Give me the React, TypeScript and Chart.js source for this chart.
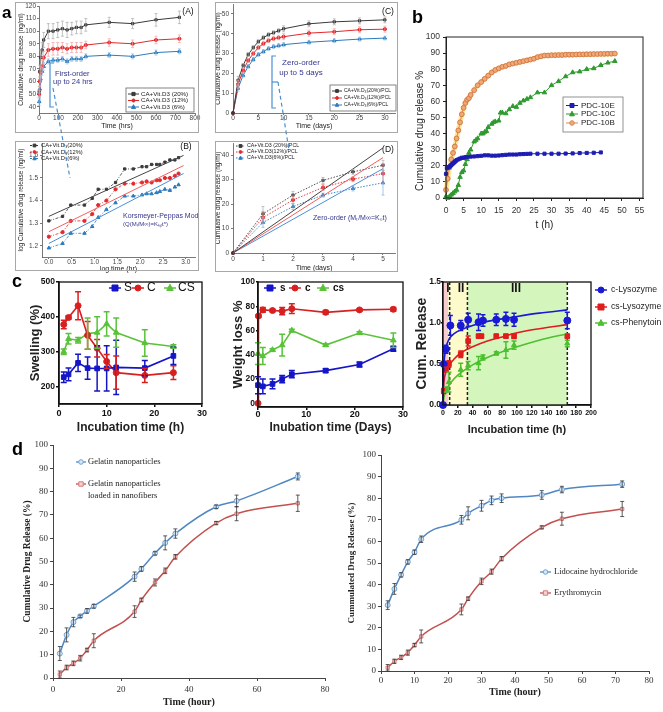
import React, { useEffect, useRef } from "react";
import { Chart, registerables } from "chart.js";
Chart.register(...registerables);

const SANS = '"Liberation Sans", Arial, Helvetica, sans-serif';
const SERIF = '"Liberation Serif", "Times New Roman", Times, serif';

/* ================= DATA ================= */
/* a (A) : cumulative release vs time (hrs) */
const aTimes = [1, 4, 8, 16, 24, 48, 72, 96, 120, 144, 168, 192, 216, 240, 360, 480, 600, 720];
const aVitD20 = [52, 68, 79, 85, 93, 100, 100, 101, 102, 101, 102, 103, 103, 105, 107, 106, 109, 111];
const aVitD20Err = [4, 5, 6, 6, 6, 6, 6, 6, 6, 6, 5, 5, 5, 5, 4, 4, 5, 5];
const aVitD12 = [50, 60, 67, 72, 79, 85, 86, 86, 87, 86, 87, 87, 87, 89, 91, 90, 93, 94];
const aVitD12Err = [3, 4, 5, 5, 5, 5, 5, 5, 4, 4, 4, 4, 4, 3, 3, 3, 3, 3];
const aVitD6 = [44, 54, 62, 68, 72, 76, 77, 77, 78, 76, 78, 78, 78, 80, 81, 80, 83, 84];
const aVitD6Err = [3, 3, 3, 3, 3, 2, 2, 2, 2, 2, 2, 2, 2, 2, 2, 2, 2, 2];
const aXTicks = [0, 100, 200, 300, 400, 500, 600, 700, 800];
const aYTicks = [40, 50, 60, 70, 80, 90, 100, 110, 120];
const aLegend = ["CA+Vit.D3 (20%)", "CA+Vit.D3 (12%)", "CA+Vit.D3 (6%)"];

/* a (B) : Korsmeyer-Peppas (log-log) */
const bLogT = [0, 0.3, 0.48, 0.78, 0.95, 1.08, 1.26, 1.46, 1.66, 1.85, 2.04, 2.14, 2.25, 2.36, 2.43, 2.54, 2.65, 2.76, 2.84];
const bLogD20 = [1.31, 1.33, 1.38, 1.38, 1.41, 1.45, 1.45, 1.48, 1.54, 1.54, 1.55, 1.55, 1.56, 1.56, 1.56, 1.57, 1.58, 1.58, 1.59];
const bLogD12 = [1.24, 1.26, 1.31, 1.31, 1.34, 1.38, 1.4, 1.45, 1.475, 1.475, 1.48, 1.485, 1.48, 1.49, 1.49, 1.5, 1.5, 1.51, 1.52];
const bLogD6 = [1.19, 1.21, 1.255, 1.255, 1.285, 1.325, 1.36, 1.39, 1.42, 1.42, 1.425, 1.43, 1.43, 1.435, 1.44, 1.45, 1.445, 1.46, 1.47];
const bFitX = [0, 2.95];
const bFit20 = [1.33, 1.6];
const bFit12 = [1.262, 1.555];
const bFit6 = [1.21, 1.52];
const bXTicks = [0, 0.5, 1, 1.5, 2, 2.5, 3];
const bYTicks = [1.2, 1.3, 1.4, 1.5, 1.6];
const bLegend = ["CA+Vit.D\u2083(20%)", "CA+Vit.D\u2083(12%)", "CA+Vit.D\u2083(6%)"];

/* a (C) : release from PCL (days) */
const cDays = [0, 1, 2, 3, 4, 5, 6, 7, 8, 9, 10, 15, 20, 25, 30];
const cPcl20 = [0, 16.5, 24, 29.5, 33, 36, 38, 39.5, 40.5, 41.5, 42.5, 45, 46, 46.5, 47];
const cPcl20Err = [0, 2, 1, 1, 1, 1, 1, 1, 1, 1, 1.5, 1.5, 1.5, 1.5, 1.5];
const cPcl12 = [0, 14.5, 21.5, 26.5, 30, 33, 35, 36.5, 37.5, 38, 38.5, 40.3, 41, 42, 42.3];
const cPcl12Err = [0, 2, 1, 1, 1, 1, 1, 1, 1, 1, 1.5, 1.5, 1.5, 1.5, 1.5];
const cPcl6 = [0, 12.5, 19, 23.5, 27, 29.5, 31, 32.5, 33.5, 34, 34.5, 35.7, 36.5, 37.3, 37.8];
const cPcl6Err = [0, 1.5, 1, 1, 1, 1, 1, 1, 1, 1, 1, 1, 1, 1, 1];
const cXTicks = [0, 5, 10, 15, 20, 25, 30];
const cYTicks = [0, 10, 20, 30, 40, 50];
const cLegend = ["CA+Vit.D\u2083(20%)/PCL", "CA+Vit.D\u2083(12%)/PCL", "CA+Vit.D\u2083(6%)/PCL"];

/* a (D) : zero-order, first 5 days */
const dDays = [0, 1, 2, 3, 4, 5];
const dPcl20 = [0, 16, 23.7, 29.7, 33.2, 35.9];
const dPcl20Err = [0, 3, 1.5, 1.2, 1, 2];
const dPcl12 = [0, 14.5, 21.7, 26.8, 30.2, 32.5];
const dPcl12Err = [0, 2.5, 1.5, 1.2, 1, 4];
const dPcl6 = [0, 12.5, 19, 23.7, 26.4, 28.7];
const dPcl6Err = [0, 2, 1.2, 0.8, 1, 5];
const dFitX = [0, 5];
const dFit20 = [0, 43];
const dFit12 = [0, 39];
const dFit6 = [0, 34.5];
const dXTicks = [0, 1, 2, 3, 4, 5];
const dYTicks = [0, 10, 20, 30, 40];
const dLegend = ["CA+Vit.D3 (20%)/PCL", "CA+Vit.D3(12%)/PCL", "CA+Vit.D3(6%)/PCL"];

/* b : PDC release */
const pdc10E_t = [0, 0.25, 0.5, 0.75, 1, 1.25, 1.5, 1.75, 2, 2.25, 2.5, 2.75, 3, 3.5, 4, 4.5, 5, 5.5, 6, 7, 8, 9, 10, 11, 12, 13, 14, 15, 16, 17, 18, 19, 20, 21, 22, 23, 24, 26, 28, 30, 32, 34, 36, 38, 40, 42, 44];
const pdc10E = [15, 18.5, 19, 19, 19.5, 20, 20.5, 21, 21.5, 22, 22.5, 23, 23.5, 24, 24.5, 25, 25, 25.3, 25.5, 25.7, 25.8, 26, 26.2, 26.5, 26.5, 26.3, 26.3, 26.4, 26.6, 26.8, 27, 27, 27, 27.2, 27.3, 27.4, 27.5, 27.5, 27.5, 27.5, 27.5, 27.6, 27.7, 27.9, 28, 28.1, 28.3];
const pdc10C_t = [0, 0.5, 1, 1.5, 2, 2.5, 3, 3.5, 4, 4.5, 5, 5.5, 6, 6.5, 7, 8, 8.5, 9, 10, 10.5, 11, 11.5, 12, 13, 13.5, 14, 15, 15.5, 16, 17, 18, 19, 20, 21, 22, 23, 24, 26, 28, 30, 32, 34, 36, 38, 40, 42, 44, 46, 48];
const pdc10C = [1, 0, 1, 2, 3, 4, 5, 8, 13, 16, 17, 21, 24, 28, 30, 35, 36, 37, 40, 40, 41, 41.5, 44, 46, 47, 47.5, 48, 53, 53, 52.5, 55, 57, 56.5, 59, 60.5, 61.5, 62.5, 65.5, 65.5, 70, 72.5, 75.5, 78, 78.5, 80, 80.5, 82.5, 84, 85];
const pdc10B_t = [0, 0.5, 1, 1.5, 2, 2.5, 3, 3.5, 4, 4.5, 5, 5.5, 6, 6.5, 7, 8, 9, 10, 11, 12, 13, 14, 15, 16, 17, 18, 19, 20, 21, 22, 23, 24, 25, 26, 27, 28, 29, 30, 31, 32, 33, 34, 35, 36, 37, 38, 39, 40, 41, 42, 43, 44, 45, 46, 47, 48];
const pdc10B = [5, 12, 19, 24, 28, 32, 37, 42, 47, 52, 56, 59, 61, 62, 64, 67, 70, 72, 74, 76, 78, 79.5, 80.5, 81.5, 82, 83, 83.5, 84, 84.5, 85, 85.5, 86, 86.5, 87.5, 88, 88.5, 88.5, 88.7, 88.7, 88.8, 88.8, 89, 89, 89, 89.1, 89.2, 89.2, 89.3, 89.3, 89.4, 89.4, 89.5, 89.5, 89.6, 89.6, 89.7];
const pdcXTicks = [0, 5, 10, 15, 20, 25, 30, 35, 40, 45, 50, 55];
const pdcYTicks = [0, 10, 20, 30, 40, 50, 60, 70, 80, 90, 100];
const pdcLegend = ["PDC-10E", "PDC-10C", "PDC-10B"];

/* c : swelling (h) */
const swT = [1, 2, 4, 6, 8, 10, 12, 18, 24];
const swS = [227, 235, 268, 253, 252, 252, 255, 253, 288];
const swSErr = [15, 18, 25, 32, 65, 65, 78, 22, 25];
const swC = [378, 398, 432, 347, 310, 272, 240, 232, 240];
const swCErr = [12, 5, 40, 40, 25, 20, 48, 20, 20];
const swCS = [300, 337, 333, 352, 355, 380, 355, 325, 315];
const swCSErr = [8, 15, 8, 45, 45, 35, 42, 38, 5];
const swXTicks = [0, 10, 20, 30];
const swYTicks = [200, 300, 400, 500];

/* c : weight loss (days) */
const wlT = [0, 1, 3, 5, 7, 14, 21, 28];
const wlS = [15, 14, 16, 20, 24, 27, 32, 45];
const wlSErr = [7, 6, 4, 3, 3, 1.5, 2, 2];
const wlCT = [0, 0.1, 1, 3, 5, 7, 14, 21, 28];
const wlC = [0, 72, 77, 76.5, 76, 78, 75, 77, 77.5];
const wlCErr = [0, 1, 2, 1, 3, 4, 1.5, 1, 1.5];
const wlCS = [41, 39, 44, 48, 60, 48, 58, 52];
const wlCSErr = [9, 7, 1, 9, 1, 1, 1, 6];
const wlXTicks = [0, 10, 20, 30];
const wlYTicks = [0, 20, 40, 60, 80, 100];

/* c : cumulative release (h) */
const crLysT = [0, 1, 4, 10, 24, 34, 48, 54, 72, 85, 96, 168];
const crLys = [0, 0.5, 0.68, 0.97, 0.97, 1.04, 1.01, 1.03, 1.04, 1.05, 1.04, 1.03];
const crLysErr = [0, 0.02, 0.05, 0.12, 0.06, 0.08, 0.1, 0.07, 0.07, 0.08, 0.08, 0.1];
const crCsLysT = [0, 1, 4, 8, 24, 34, 48, 52, 72, 85, 96, 168];
const crCsLys = [0, 0.17, 0.43, 0.5, 0.62, 0.78, 0.84, 0.84, 0.84, 0.84, 0.84, 0.84];
const crCsLysErr = [0, 0.03, 0.03, 0.04, 0.04, 0.06, 0.02, 0.02, 0.02, 0.02, 0.03, 0.02];
const crPhT = [0, 4, 8, 24, 34, 48, 54, 72, 85, 96, 168];
const crPh = [0, 0.19, 0.28, 0.43, 0.48, 0.51, 0.58, 0.63, 0.67, 0.73, 0.75];
const crPhErr = [0, 0.03, 0.12, 0.08, 0.05, 0.08, 0.03, 0.02, 0.1, 0.05, 0.04];
const crFitLysT = [0, 0.5, 1, 2, 4, 8, 15, 25, 40, 60, 80, 100, 130, 168];
const crFitLys = [0, 0.3, 0.45, 0.58, 0.7, 0.8, 0.87, 0.92, 0.97, 1.02, 1.05, 1.08, 1.12, 1.16];
const crFitCsLys = [0, 0.15, 0.25, 0.33, 0.4, 0.48, 0.56, 0.64, 0.71, 0.78, 0.83, 0.88, 0.93, 0.98];
const crFitPhT = [0, 1, 2, 4, 8, 15, 25, 40, 60, 80, 100, 130, 168];
const crFitPh = [0, 0.08, 0.12, 0.17, 0.24, 0.32, 0.4, 0.49, 0.58, 0.65, 0.71, 0.79, 0.87];
const crZones = [0, 7, 33, 168];
const crDashes = [9, 33, 168];
const crXTicks = [0, 20, 40, 60, 80, 100, 120, 140, 160, 180, 200];
const crYTicks = [0, 0.5, 1, 1.5];
const crLegend = ["c-Lysozyme", "cs-Lysozyme", "cs-Phenytoin"];

/* d : nanoparticle / nanofiber release (hour) */
const ndT = [2, 4, 6, 8, 10, 12, 24, 26, 30, 33, 36, 48, 54, 72];
const gelNP = [10.5, 18.5, 24, 26.5, 28.8, 30.8, 43.5, 46.8, 53.5, 58, 62, 73.5, 76, 86.5];
const gelNPErr = [3, 3, 2, 0.5, 1, 0.8, 2, 1, 0.7, 3, 2, 0.7, 2.5, 1.5];
const gelNF = [1.5, 4.5, 6.3, 8.5, 12, 16, 28.5, 33.5, 41, 46, 52, 66.5, 70.5, 75];
const gelNFErr = [1.5, 1, 1, 1.2, 0.8, 3, 2.5, 0.8, 1.5, 1.2, 1, 0.7, 3, 3.5];
const lido = [30.5, 38, 44.5, 50.5, 55, 61, 70, 73, 76.5, 79, 80, 81.5, 84, 86.5];
const lidoErr = [2, 2.5, 1, 1, 1, 1.5, 2, 3, 2.5, 2, 2, 2, 1.5, 1.5];
const eryth = [1.5, 4.5, 6.3, 8.5, 12, 16, 28.5, 33.5, 41.5, 46, 52, 66.5, 70.5, 75];
const erythErr = [1.5, 1, 1, 1.2, 0.8, 3, 2.5, 0.8, 1.5, 1.2, 1, 0.7, 3, 3.5];
const ndXTicksL = [0, 20, 40, 60, 80];
const ndXTicksR = [0, 10, 20, 30, 40, 50, 60, 70, 80];
const ndYTicks = [0, 10, 20, 30, 40, 50, 60, 70, 80, 90, 100];

/* ================= HELPERS ================= */
function line(xs: number[], ys: number[], o: any = {}) {
  return {
    data: xs.map((x, i) => ({ x, y: ys[i] })),
    borderColor: o.color,
    backgroundColor: o.fill ?? o.color,
    borderWidth: o.lw ?? 1,
    borderDash: o.dash ?? [],
    pointStyle: o.style ?? "circle",
    pointRadius: o.r ?? 0,
    pointBackgroundColor: o.fill ?? o.color,
    pointBorderColor: o.pstroke ?? o.color,
    pointBorderWidth: o.pw ?? 1,
    tension: o.tension ?? 0,
    cubicInterpolationMode: o.mono ? "monotone" : "default",
    showLine: o.showLine ?? true,
    clip: false,
    order: o.order ?? 0,
    err: o.err,
    errColor: o.errColor,
    errW: o.errW,
    cap: o.cap,
  };
}

function shape(ctx: any, style: string, x: number, y: number, r: number, fill: string | null, stroke: string | null, lw = 1) {
  ctx.beginPath();
  if (style === "rect") ctx.rect(x - r, y - r, 2 * r, 2 * r);
  else if (style === "triangle") {
    ctx.moveTo(x, y - r * 1.15);
    ctx.lineTo(x + r, y + r * 0.75);
    ctx.lineTo(x - r, y + r * 0.75);
    ctx.closePath();
  } else ctx.arc(x, y, r, 0, Math.PI * 2);
  if (fill) { ctx.fillStyle = fill; ctx.fill(); }
  if (stroke) { ctx.setLineDash([]); ctx.strokeStyle = stroke; ctx.lineWidth = lw; ctx.stroke(); }
}

function text(ctx: any, P: any, s: string, x: number, y: number, font: string, color: string, align = "left") {
  const [cx, cy] = P(x, y);
  ctx.font = font;
  ctx.fillStyle = color;
  ctx.textAlign = align;
  ctx.textBaseline = "middle";
  ctx.fillText(s, cx, cy);
}

function vtext(ctx: any, P: any, s: string, x: number, y: number, font: string, color: string) {
  const [cx, cy] = P(x, y);
  ctx.save();
  ctx.translate(cx, cy);
  ctx.rotate(-Math.PI / 2);
  ctx.font = font;
  ctx.fillStyle = color;
  ctx.textAlign = "center";
  ctx.textBaseline = "middle";
  ctx.fillText(s, 0, 0);
  ctx.restore();
}

function legend(ctx: any, P: any, o: any) {
  if (o.box) {
    const [x1, y1] = P(o.box.l, o.box.t);
    const [x2, y2] = P(o.box.r, o.box.b);
    ctx.setLineDash([]);
    ctx.strokeStyle = o.boxColor || "#555";
    ctx.lineWidth = o.boxW || 0.8;
    ctx.strokeRect(x1, y1, x2 - x1, y2 - y1);
  }
  for (const it of o.items) {
    const x1 = it.x1 ?? o.x1, x2 = it.x2 ?? o.x2, tx = it.tx ?? o.tx;
    const [a, y] = P(x1, it.y);
    const [b] = P(x2, it.y);
    ctx.setLineDash(it.dash || []);
    ctx.strokeStyle = it.color;
    ctx.lineWidth = it.lw || 1;
    ctx.beginPath();
    ctx.moveTo(a, y);
    ctx.lineTo(b, y);
    ctx.stroke();
    ctx.setLineDash([]);
    if (it.style) shape(ctx, it.style, (a + b) / 2, y, it.r || 2, it.fill ?? it.color, it.stroke ?? it.color, 1);
    text(ctx, P, it.text, tx, it.y, o.font, o.color || "#222");
    if (it.text2) text(ctx, P, it.text2, tx, it.y + o.lh2, o.font, o.color || "#222");
  }
}

function drawErr(chart: any) {
  const ctx = chart.ctx;
  const ys = chart.scales.y;
  chart.data.datasets.forEach((ds: any, i: number) => {
    if (!ds.err) return;
    const meta = chart.getDatasetMeta(i);
    ctx.save();
    ctx.strokeStyle = ds.errColor || ds.borderColor;
    ctx.lineWidth = ds.errW || 1;
    ctx.setLineDash([]);
    const cap = ds.cap ?? 2;
    ds.data.forEach((p: any, j: number) => {
      const e = ds.err[j];
      const el = meta.data[j];
      if (!e || !el) return;
      const x = el.x;
      const y1 = ys.getPixelForValue(p.y + e);
      const y2 = ys.getPixelForValue(p.y - e);
      ctx.beginPath();
      ctx.moveTo(x, y1); ctx.lineTo(x, y2);
      ctx.moveTo(x - cap, y1); ctx.lineTo(x + cap, y1);
      ctx.moveTo(x - cap, y2); ctx.lineTo(x + cap, y2);
      ctx.stroke();
    });
    ctx.restore();
  });
}

function geom(s: any) {
  const tf = s.y.titleSize ?? 10;
  let left = s.y.title ? Math.floor(s.y.titleAt - tf * 0.65 - 2) : s.plot.l - 30;
  if (s.minLeft != null) left = Math.min(left, s.minLeft);
  const top = s.plot.t - s.padT;
  const xf = s.x.titleSize ?? 10;
  const bottom = s.x.title ? Math.ceil(s.x.titleAt + xf * 0.65 + 2) : s.plot.b + 20;
  const right = s.plot.r + s.padR;
  return { left, top, w: right - left, h: bottom - top, yw: s.plot.l - left, xh: bottom - s.plot.b };
}

function axisOpts(a: any, isX: boolean, g: any, s: any) {
  const tl = a.tickLen ?? 3;
  const fs = a.font;
  let pad: number;
  if (isX) pad = (a.labelAt ?? s.plot.b + tl + 2 + fs * 0.6) - s.plot.b - tl - fs * 0.6;
  else pad = s.plot.l - tl - (a.labelAt ?? s.plot.l - tl - 2);
  const col = a.line ?? "#333";
  return {
    type: "linear",
    position: isX ? "bottom" : "left",
    min: a.min,
    max: a.max,
    bounds: "data",
    offset: false,
    afterBuildTicks: (sc: any) => { sc.ticks = a.ticks.map((v: number) => ({ value: v })); },
    afterFit: (sc: any) => {
      if (isX) sc.height = g.xh; else sc.width = g.yw;
      sc.paddingLeft = 0; sc.paddingRight = 0; sc.paddingTop = 0; sc.paddingBottom = 0;
    },
    grid: { display: true, drawOnChartArea: false, drawTicks: tl > 0, tickLength: tl, color: col, lineWidth: a.lineW ?? 1 },
    border: { display: true, color: col, width: a.lineW ?? 1 },
    ticks: {
      autoSkip: false, maxRotation: 0, minRotation: 0, padding: pad,
      color: a.color ?? "#333",
      font: { family: a.family, size: fs, weight: a.bold ? "bold" : "normal", lineHeight: 1.2 },
      callback: (v: any) => (a.fmt ? a.fmt(Number(v)) : String(v)),
    },
    title: { display: false },
  };
}

function PlotCanvas({ spec }: { spec: any }) {
  const ref = useRef<HTMLCanvasElement>(null);
  const g = geom(spec);
  useEffect(() => {
    const P = (x: number, y: number) => [x - g.left, y - g.top];
    const overlay = {
      id: "overlay",
      beforeDatasetsDraw(chart: any) {
        const ctx = chart.ctx;
        ctx.save();
        if (spec.before) spec.before(ctx, chart, P);
        ctx.restore();
      },
      afterDatasetsDraw(chart: any) {
        const ctx = chart.ctx;
        drawErr(chart);
        ctx.save();
        const ca = chart.chartArea;
        if (spec.box) {
          ctx.setLineDash([]);
          ctx.strokeStyle = spec.boxColor ?? "#222";
          ctx.lineWidth = spec.boxW ?? 1;
          ctx.strokeRect(ca.left, ca.top, ca.right - ca.left, ca.bottom - ca.top);
        }
        const xa = spec.x, ya = spec.y;
        if (xa.title) text(ctx, P, xa.title, xa.titleMid ?? (spec.plot.l + spec.plot.r) / 2, xa.titleAt, xa.titleFont, xa.titleColor ?? "#222", "center");
        if (ya.title) vtext(ctx, P, ya.title, ya.titleAt, ya.titleMid ?? (spec.plot.t + spec.plot.b) / 2, ya.titleFont, ya.titleColor ?? "#222");
        if (spec.after) spec.after(ctx, chart, P);
        ctx.restore();
      },
    };
    const chart = new Chart(ref.current as any, {
      type: "line",
      data: { datasets: spec.datasets },
      options: {
        animation: false,
        responsive: false,
        maintainAspectRatio: false,
        devicePixelRatio: 1,
        events: [],
        layout: { padding: { left: 0, top: spec.padT, right: spec.padR, bottom: 0 }, autoPadding: false },
        plugins: { legend: { display: false }, tooltip: { enabled: false }, title: { display: false } },
        scales: { x: axisOpts(spec.x, true, g, spec), y: axisOpts(spec.y, false, g, spec) },
      } as any,
      plugins: [overlay],
    } as any);
    return () => chart.destroy();
  }, []);
  return (
    <canvas
      ref={ref}
      width={g.w}
      height={g.h}
      style={{ position: "absolute", left: g.left, top: g.top, width: g.w, height: g.h }}
    />
  );
}

/* ================= SPECS ================= */
const f1 = (v: number) => v.toFixed(1);
const K = "#3a3a3a", R = "#e3282c", B = "#2b7bbd";
const NAVY = "#34368c";

const aAxis = { family: SANS, font: 6.5, color: "#444", line: "#555", lineW: 0.8, tickLen: 2 };

const specA = {
  plot: { l: 39, t: 6, r: 195, b: 113 }, padT: 5, padR: 7,
  x: { ...aAxis, min: 0, max: 800, ticks: aXTicks, labelAt: 118.5, title: "Time (hrs)", titleAt: 126, titleSize: 7, titleFont: `7px ${SANS}` },
  y: { ...aAxis, min: 35, max: 120, ticks: aYTicks, labelAt: 36, title: "Cumulative drug release (ng/ml)", titleAt: 21, titleSize: 6.5, titleFont: `6.5px ${SANS}` },
  datasets: [
    line(aTimes, aVitD20, { color: K, style: "rect", r: 1.6, err: aVitD20Err, errColor: "#aaa", errW: 0.7, cap: 1.5 }),
    line(aTimes, aVitD12, { color: R, style: "circle", r: 1.6, err: aVitD12Err, errColor: "#f3a0a0", errW: 0.7, cap: 1.5 }),
    line(aTimes, aVitD6, { color: B, style: "triangle", r: 2, err: aVitD6Err, errColor: "#9cc3e6", errW: 0.7, cap: 1.5 }),
  ],
  after: (ctx: any, ch: any, P: any) => {
    legend(ctx, P, {
      box: { l: 126, t: 88, r: 194, b: 112 }, boxColor: "#666", x1: 128, x2: 139, tx: 141, font: `6.2px ${SANS}`,
      items: [
        { text: aLegend[0], y: 94, color: K, style: "rect", r: 1.6 },
        { text: aLegend[1], y: 100.5, color: R, style: "circle", r: 1.6 },
        { text: aLegend[2], y: 107, color: B, style: "triangle", r: 2 },
      ],
    });
    text(ctx, P, "First-order", 55, 74, `7.5px ${SANS}`, NAVY);
    text(ctx, P, "up to 24 hrs", 53, 82, `7.5px ${SANS}`, NAVY);
    text(ctx, P, "(A)", 188, 12, `8.5px ${SANS}`, "#111", "center");
  },
};

const specB = {
  plot: { l: 42, t: 143, r: 195, b: 257 }, padT: 3, padR: 4,
  x: { ...aAxis, min: -0.15, max: 3.2, ticks: bXTicks, fmt: f1, labelAt: 262, title: "log time (hr)", titleAt: 269, titleSize: 7, titleFont: `7px ${SANS}` },
  y: { ...aAxis, min: 1.15, max: 1.655, ticks: bYTicks, fmt: f1, labelAt: 38, title: "log Cumulative drug release (ng/ml)", titleAt: 21, titleSize: 6.5, titleFont: `6.5px ${SANS}` },
  datasets: [
    line(bFitX, bFit20, { color: "#444", lw: 1 }),
    line(bFitX, bFit12, { color: "#f06060", lw: 1 }),
    line(bFitX, bFit6, { color: "#4a90d8", lw: 1 }),
    line(bLogT, bLogD20, { color: K, style: "rect", r: 1.6, lw: 0.8, dash: [3, 1.5, 1, 1.5] }),
    line(bLogT, bLogD12, { color: R, style: "circle", r: 1.6, lw: 0.8, dash: [3, 1.5, 1, 1.5] }),
    line(bLogT, bLogD6, { color: B, style: "triangle", r: 2, lw: 0.8, dash: [3, 1.5, 1, 1.5] }),
  ],
  after: (ctx: any, ch: any, P: any) => {
    legend(ctx, P, {
      x1: 30, x2: 39, tx: 41, font: `5.8px ${SANS}`,
      items: [
        { text: bLegend[0], y: 145.5, color: K, style: "rect", r: 1.4, dash: [2, 1] },
        { text: bLegend[1], y: 152, color: R, style: "circle", r: 1.4, dash: [2, 1] },
        { text: bLegend[2], y: 158.5, color: B, style: "triangle", r: 1.7, dash: [2, 1] },
      ],
    });
    text(ctx, P, "Korsmeyer-Peppas Model", 123, 216, `7px ${SANS}`, NAVY);
    text(ctx, P, "(Q(M\u209c/M\u221e)=K\u2096\u209at\u207f)", 123, 224, `6px ${SANS}`, NAVY);
    text(ctx, P, "(B)", 186, 147, `8.5px ${SANS}`, "#111", "center");
  },
};

const specC = {
  plot: { l: 233, t: 4, r: 395, b: 113 }, padT: 3, padR: 4,
  x: { ...aAxis, min: 0, max: 32, ticks: cXTicks, labelAt: 118.5, title: "Time (days)", titleAt: 126, titleSize: 7, titleFont: `7px ${SANS}` },
  y: { ...aAxis, min: 0, max: 55, ticks: cYTicks, labelAt: 229, title: "Cumulative drug release (ng/ml)", titleAt: 218, titleSize: 6.5, titleFont: `6.5px ${SANS}` },
  datasets: [
    line(cDays, cPcl20, { color: K, style: "rect", r: 1.6, err: cPcl20Err, errColor: "#aaa", errW: 0.7, cap: 1.5 }),
    line(cDays, cPcl12, { color: R, style: "circle", r: 1.6, err: cPcl12Err, errColor: "#f3a0a0", errW: 0.7, cap: 1.5 }),
    line(cDays, cPcl6, { color: B, style: "triangle", r: 2, err: cPcl6Err, errColor: "#9cc3e6", errW: 0.7, cap: 1.5 }),
  ],
  after: (ctx: any, ch: any, P: any) => {
    legend(ctx, P, {
      box: { l: 330, t: 85, r: 396, b: 111 }, boxColor: "#666", x1: 332, x2: 342, tx: 344, font: `5px ${SANS}`,
      items: [
        { text: cLegend[0], y: 91, color: K, style: "rect", r: 1.4 },
        { text: cLegend[1], y: 98, color: R, style: "circle", r: 1.4 },
        { text: cLegend[2], y: 105, color: B, style: "triangle", r: 1.7 },
      ],
    });
    text(ctx, P, "Zero-order", 301, 63, `8px ${SANS}`, NAVY, "center");
    text(ctx, P, "up to 5 days", 301, 73, `8px ${SANS}`, NAVY, "center");
    text(ctx, P, "(C)", 388, 12, `8.5px ${SANS}`, "#111", "center");
  },
};

const specD = {
  plot: { l: 233, t: 143, r: 395, b: 253 }, padT: 3, padR: 4,
  x: { ...aAxis, min: 0, max: 5.4, ticks: dXTicks, labelAt: 259, title: "Time (days)", titleAt: 268, titleSize: 7, titleFont: `7px ${SANS}` },
  y: { ...aAxis, min: 0, max: 45, ticks: dYTicks, labelAt: 229, title: "Cumulative drug release (ng/ml)", titleAt: 218, titleSize: 6.5, titleFont: `6.5px ${SANS}` },
  datasets: [
    line(dFitX, dFit20, { color: "#444", lw: 1 }),
    line(dFitX, dFit12, { color: "#f06060", lw: 1 }),
    line(dFitX, dFit6, { color: "#4a90d8", lw: 1 }),
    line(dDays, dPcl20, { color: K, style: "rect", r: 1.6, lw: 0.9, dash: [1.5, 1.5], err: dPcl20Err, errColor: "#aaa", errW: 0.7, cap: 1.5 }),
    line(dDays, dPcl12, { color: R, style: "circle", r: 1.6, lw: 0.9, dash: [1.5, 1.5], err: dPcl12Err, errColor: "#f08080", errW: 0.7, cap: 1.5 }),
    line(dDays, dPcl6, { color: B, style: "triangle", r: 2, lw: 0.9, dash: [1.5, 1.5], err: dPcl6Err, errColor: "#80b0e0", errW: 0.7, cap: 1.5 }),
  ],
  after: (ctx: any, ch: any, P: any) => {
    legend(ctx, P, {
      x1: 236, x2: 245, tx: 247, font: `5.3px ${SANS}`,
      items: [
        { text: dLegend[0], y: 146, color: K, style: "rect", r: 1.4, dash: [1.5, 1.5] },
        { text: dLegend[1], y: 152, color: R, style: "circle", r: 1.4, dash: [1.5, 1.5] },
        { text: dLegend[2], y: 158, color: B, style: "triangle", r: 1.7, dash: [1.5, 1.5] },
      ],
    });
    text(ctx, P, "Zero-order (M\u209c/M\u221e=K\u2080t)", 313, 218, `7px ${SANS}`, NAVY);
    text(ctx, P, "(D)", 388, 150, `8.5px ${SANS}`, "#111", "center");
  },
};

const EB = "#1d1db5", GC = "#2f9a2f", OB = "#dd8650";
const specPDC = {
  plot: { l: 446, t: 37, r: 643, b: 198 }, padT: 6, padR: 8, box: true, boxColor: "#222", boxW: 1,
  x: { family: SANS, font: 8.5, color: "#333", line: "#222", tickLen: 3, min: 0, max: 56, ticks: pdcXTicks, labelAt: 211, title: "t (h)", titleAt: 225, titleSize: 10, titleFont: `10px ${SANS}` },
  y: { family: SANS, font: 8.5, color: "#333", line: "#222", tickLen: 3, min: 0, max: 100, ticks: pdcYTicks, labelAt: 440, title: "Cumulative drug release %", titleAt: 420, titleMid: 131, titleSize: 10, titleFont: `10px ${SANS}` },
  datasets: [
    line(pdc10B_t, pdc10B, { color: "rgba(255,226,110,0.75)", lw: 5, order: 5 }),
    line(pdc10E_t, pdc10E, { color: EB, style: "rect", r: 2.2, lw: 1 }),
    line(pdc10C_t, pdc10C, { color: GC, style: "triangle", r: 2.6, lw: 1 }),
    line(pdc10B_t, pdc10B, { color: OB, fill: "#f2a878", pstroke: "#d27a45", style: "circle", r: 2.4, lw: 1 }),
  ],
  after: (ctx: any, ch: any, P: any) => {
    legend(ctx, P, {
      box: { l: 563, t: 97, r: 623, b: 132 }, boxColor: "#777", x1: 566, x2: 578, tx: 581, font: `8px ${SANS}`,
      items: [
        { text: pdcLegend[0], y: 105.5, color: EB, style: "rect", r: 2 },
        { text: pdcLegend[1], y: 114, color: GC, style: "triangle", r: 2.4 },
        { text: pdcLegend[2], y: 123, color: OB, fill: "#f2a878", style: "circle", r: 2.3 },
      ],
    });
  },
};

const SB = "#1515c8", SR = "#d82020", SG = "#5ac23a";
const cAxis = { family: SANS, bold: true, color: "#111", line: "#111", lineW: 1.5, tickLen: 3 };
const specSwell = {
  plot: { l: 59, t: 282, r: 202, b: 404 }, padT: 7, padR: 6, box: true, boxW: 1.3, boxColor: "#111",
  x: { ...cAxis, font: 9, min: 0, max: 30, ticks: swXTicks, labelAt: 414, title: "Incubation time (h)", titleAt: 428, titleSize: 12, titleFont: `bold 12px ${SANS}` },
  y: { ...cAxis, font: 8.5, min: 150, max: 500, ticks: swYTicks, labelAt: 55, title: "Swelling (%)", titleAt: 35, titleSize: 13, titleFont: `bold 13px ${SANS}` },
  datasets: [
    line(swT, swS, { color: SB, style: "rect", r: 3.3, lw: 1.6, err: swSErr, errW: 1.5, cap: 3 }),
    line(swT, swC, { color: SR, style: "circle", r: 3, lw: 1.6, err: swCErr, errW: 1.5, cap: 3 }),
    line(swT, swCS, { color: SG, style: "triangle", r: 3.3, lw: 1.6, err: swCSErr, errW: 1.5, cap: 3 }),
  ],
  after: (ctx: any, ch: any, P: any) => {
    legend(ctx, P, {
      font: `12px ${SANS}`, color: "#111",
      items: [
        { text: "S", y: 288, color: SB, style: "rect", r: 3, x1: 109, x2: 121, tx: 124, lw: 1.5 },
        { text: "C", y: 288, color: SR, style: "circle", r: 3, x1: 132, x2: 144, tx: 147, lw: 1.5 },
        { text: "CS", y: 288, color: SG, style: "triangle", r: 3.3, x1: 164, x2: 176, tx: 178, lw: 1.5 },
      ],
    });
  },
};

const specWeight = {
  plot: { l: 258, t: 282, r: 403, b: 407 }, padT: 7, padR: 6, box: true, boxW: 1.3, boxColor: "#111",
  x: { ...cAxis, font: 9, min: 0, max: 30, ticks: wlXTicks, labelAt: 415, title: "Inubation time (Days)", titleAt: 428, titleSize: 12, titleFont: `bold 12px ${SANS}` },
  y: { ...cAxis, font: 8.5, min: -3, max: 100, ticks: wlYTicks, labelAt: 255, tickLen: 2, title: "Weight loss %", titleAt: 238, titleSize: 13, titleFont: `bold 13px ${SANS}` },
  datasets: [
    line(wlT, wlS, { color: SB, style: "rect", r: 3.3, lw: 1.6, err: wlSErr, errW: 1.5, cap: 3 }),
    line(wlCT, wlC, { color: SR, style: "circle", r: 3, lw: 1.6, err: wlCErr, errW: 1.5, cap: 3 }),
    line(wlT, wlCS, { color: SG, style: "triangle", r: 3.3, lw: 1.6, err: wlCSErr, errW: 1.5, cap: 3 }),
  ],
  after: (ctx: any, ch: any, P: any) => {
    legend(ctx, P, {
      font: `bold 10px ${SANS}`, color: "#111",
      items: [
        { text: "s", y: 288, color: SB, style: "rect", r: 3, x1: 264, x2: 276, tx: 280, lw: 1.5 },
        { text: "c", y: 288, color: SR, style: "circle", r: 3, x1: 289, x2: 301, tx: 305, lw: 1.5 },
        { text: "cs", y: 288, color: SG, style: "triangle", r: 3.3, x1: 317, x2: 329, tx: 333, lw: 1.5 },
      ],
    });
  },
};

const CB = "#1a1ad6", CR = "#e01c1c", CG = "#4cc030";
const specCum = {
  plot: { l: 443, t: 282, r: 591, b: 405 }, padT: 7, padR: 72, box: true, boxW: 1.3, boxColor: "#111",
  x: { ...cAxis, font: 7, min: 0, max: 200, ticks: crXTicks, labelAt: 413, title: "Incubation time (h)", titleAt: 430, titleSize: 11, titleFont: `bold 11px ${SANS}` },
  y: { ...cAxis, font: 8.5, min: 0, max: 1.5, ticks: crYTicks, fmt: f1, labelAt: 441, tickLen: 2, title: "Cum. Release", titleAt: 422, titleSize: 14, titleFont: `bold 14px ${SANS}` },
  datasets: [
    line(crFitLysT, crFitLys, { color: CB, lw: 1.6, tension: 0.4, mono: true }),
    line(crFitLysT, crFitCsLys, { color: CR, lw: 1.6, tension: 0.4, mono: true }),
    line(crFitPhT, crFitPh, { color: CG, lw: 1.6, tension: 0.4, mono: true }),
    line(crLysT, crLys, { color: CB, style: "circle", r: 3.5, showLine: false, err: crLysErr, errW: 1.5, cap: 2.5 }),
    line(crCsLysT, crCsLys, { color: CR, style: "rect", r: 3.3, showLine: false, err: crCsLysErr, errW: 1.5, cap: 2.5 }),
    line(crPhT, crPh, { color: CG, style: "triangle", r: 3, showLine: false, err: crPhErr, errW: 1.5, cap: 2.5 }),
  ],
  before: (ctx: any, ch: any, P: any) => {
    const xs = ch.scales.x, ca = ch.chartArea;
    const cols = ["rgba(246,196,200,0.85)", "rgba(253,250,200,0.95)", "rgba(210,246,185,0.95)"];
    for (let i = 0; i < 3; i++) {
      const a = xs.getPixelForValue(crZones[i]);
      const b = xs.getPixelForValue(crZones[i + 1]);
      ctx.fillStyle = cols[i];
      ctx.fillRect(a, ca.top, b - a, ca.bottom - ca.top);
    }
    ctx.strokeStyle = "#222";
    ctx.lineWidth = 1.5;
    ctx.setLineDash([3, 2]);
    for (const d of crDashes) {
      const x = xs.getPixelForValue(d);
      ctx.beginPath();
      ctx.moveTo(x, ca.top);
      ctx.lineTo(x, ca.bottom);
      ctx.stroke();
    }
    ctx.setLineDash([]);
  },
  after: (ctx: any, ch: any, P: any) => {
    text(ctx, P, "I", 448, 289, `bold 12px ${SANS}`, "#111", "center");
    text(ctx, P, "II", 461, 289, `bold 12px ${SANS}`, "#111", "center");
    text(ctx, P, "III", 516, 289, `bold 12px ${SANS}`, "#111", "center");
    legend(ctx, P, {
      x1: 595, x2: 607, tx: 611, font: `8.7px ${SANS}`, color: "#222",
      items: [
        { text: crLegend[0], y: 290, color: CB, style: "circle", r: 3, lw: 1.5 },
        { text: crLegend[1], y: 307, color: CR, style: "rect", r: 3, lw: 1.5 },
        { text: crLegend[2], y: 323, color: CG, style: "triangle", r: 3, lw: 1.5 },
      ],
    });
  },
};

const DBL = "#5087c2", DRD = "#c2504e";
const dAxis = { family: SERIF, font: 9, color: "#333", line: "#444", lineW: 1, tickLen: 3 };
const specNDL = {
  plot: { l: 53, t: 445, r: 325, b: 678 }, padT: 6, padR: 8,
  x: { ...dAxis, min: 0, max: 80, ticks: ndXTicksL, labelAt: 690, title: "Time (hour)", titleAt: 702, titleSize: 10, titleFont: `bold 10px ${SERIF}` },
  y: { ...dAxis, min: 0, max: 100, ticks: ndYTicks, labelAt: 48, title: "Cumulative Drug Release (%)", titleAt: 28, titleSize: 9.5, titleFont: `bold 9.5px ${SERIF}` },
  datasets: [
    line(ndT, gelNP, { color: DBL, lw: 1.5, tension: 0.4, mono: true, style: "circle", r: 2.5, fill: "#d6e6f6", pstroke: "#6fa3d8", err: gelNPErr, errColor: "#333", errW: 0.8, cap: 2 }),
    line(ndT, gelNF, { color: DRD, lw: 1.5, tension: 0.4, mono: true, style: "rect", r: 2.3, fill: "#f6d3d3", pstroke: "#d47a78", err: gelNFErr, errColor: "#333", errW: 0.8, cap: 2 }),
  ],
  after: (ctx: any, ch: any, P: any) => {
    legend(ctx, P, {
      x1: 76, x2: 86, tx: 88, font: `8.5px ${SERIF}`, color: "#222", lh2: 12,
      items: [
        { text: "Gelatin nanoparticles", y: 462, color: DBL, style: "circle", r: 2.3, fill: "#d6e6f6", stroke: "#6fa3d8", lw: 1.3 },
        { text: "Gelatin nanoparticles", text2: "loaded in nanofibers", y: 484, color: DRD, style: "rect", r: 2.2, fill: "#f6d3d3", stroke: "#d47a78", lw: 1.3 },
      ],
    });
  },
};

const specNDR = {
  plot: { l: 381, t: 455, r: 649, b: 671 }, padT: 6, padR: 8,
  x: { ...dAxis, min: 0, max: 80, ticks: ndXTicksR, labelAt: 681, title: "Time (hour)", titleAt: 692, titleSize: 10, titleFont: `bold 10px ${SERIF}` },
  y: { ...dAxis, min: 0, max: 100, ticks: ndYTicks, labelAt: 376, title: "Cummulated Drug Release (%)", titleAt: 352, titleSize: 9, titleFont: `bold 9px ${SERIF}` },
  datasets: [
    line(ndT, lido, { color: DBL, lw: 1.5, tension: 0.4, mono: true, style: "circle", r: 2.5, fill: "#d6e6f6", pstroke: "#6fa3d8", err: lidoErr, errColor: "#333", errW: 0.8, cap: 2 }),
    line(ndT, eryth, { color: DRD, lw: 1.5, tension: 0.4, mono: true, style: "rect", r: 2.3, fill: "#f6d3d3", pstroke: "#d47a78", err: erythErr, errColor: "#333", errW: 0.8, cap: 2 }),
  ],
  after: (ctx: any, ch: any, P: any) => {
    legend(ctx, P, {
      x1: 540, x2: 551, tx: 554, font: `8.5px ${SERIF}`, color: "#222",
      items: [
        { text: "Lidocaine hydrochloride", y: 572, color: DBL, style: "circle", r: 2.3, fill: "#d6e6f6", stroke: "#6fa3d8", lw: 1.3 },
        { text: "Erythromycin", y: 593, color: DRD, style: "rect", r: 2.2, fill: "#f6d3d3", stroke: "#d47a78", lw: 1.3 },
      ],
    });
  },
};

const SPECS = [specA, specB, specC, specD, specPDC, specSwell, specWeight, specCum, specNDL, specNDR];

export default function App() {
  return (
    <div style={{ position: "absolute", left: 0, top: 0, width: 663, height: 712, background: "#fff", overflow: "hidden" }}>
      {SPECS.map((s, i) => (
        <PlotCanvas key={i} spec={s} />
      ))}
      <svg width={663} height={712} style={{ position: "absolute", left: 0, top: 0, pointerEvents: "none" }}>
        <g fill="none" stroke="#a8a8a8" strokeWidth={1}>
          <rect x={15.5} y={2.5} width={183} height={130} />
          <rect x={215.5} y={2.5} width={182} height={130} />
          <rect x={15.5} y={141.5} width={183} height={129} />
          <rect x={215.5} y={141.5} width={182} height={130} />
        </g>
        <g stroke="#4a90d0" strokeWidth={1.2} fill="none">
          <polyline points="54,63 50,63 50,107 54,107" />
          <line x1={53} y1={88} x2={70} y2={178} strokeDasharray="4 3" />
          <polyline points="276,56 272,56 272,108 276,108" />
          <line x1={272} y1={82} x2={278} y2={82} />
          <line x1={278} y1={82} x2={289} y2={150} strokeDasharray="4 3" />
        </g>
        <g fontFamily={SANS} fontWeight="bold" fill="#000">
          <text x={2} y={18} fontSize={17}>a</text>
          <text x={412} y={23} fontSize={18}>b</text>
          <text x={12} y={287} fontSize={18}>c</text>
          <text x={12} y={455} fontSize={18}>d</text>
        </g>
      </svg>
    </div>
  );
}
